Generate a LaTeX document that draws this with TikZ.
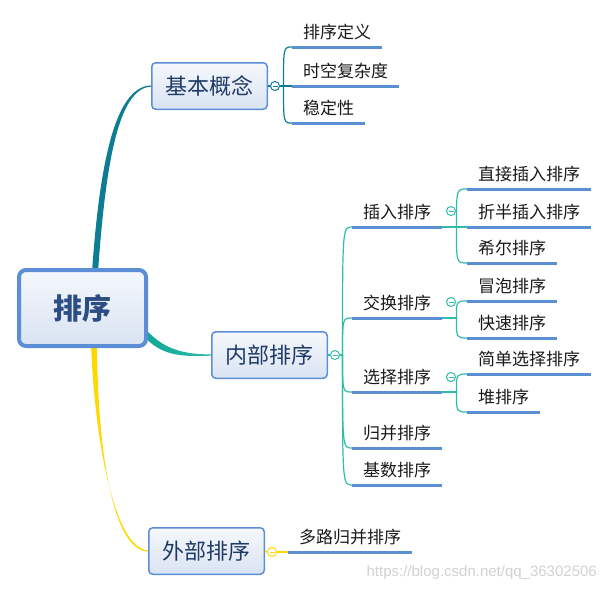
\documentclass[tikz,border=0pt]{standalone}
\usepackage{fontspec}
\setmainfont{Noto Sans CJK SC}
\newfontfamily\wmfont{Liberation Sans}
\usetikzlibrary{calc,backgrounds}
\definecolor{ublue}{HTML}{5B8FD4}
\definecolor{bord}{HTML}{5B8ED6}
\definecolor{boxtop}{HTML}{F5F8FC}
\definecolor{boxbot}{HTML}{D9E3F2}
\definecolor{tealA}{HTML}{0C7D93}
\definecolor{tealB}{HTML}{2EBEA8}
\definecolor{tealC}{HTML}{10A596}
\definecolor{yel}{HTML}{FFD800}
\definecolor{navy}{HTML}{1F3A66}
\definecolor{rootc}{HTML}{2D4E84}
\begin{document}
\begin{tikzpicture}[x=1pt,y=-1pt,
  box/.style={draw=bord, line width=1.5pt, rounded corners=4pt, top color=boxtop, bottom color=boxbot,
    minimum width=115.5pt, minimum height=46.5pt, inner sep=0pt,
    font=\fontsize{22pt}{24pt}\selectfont, text=navy},
  rootbox/.style={box, line width=4pt, rounded corners=7pt, minimum width=127pt, minimum height=76pt,
    font=\fontsize{29pt}{32pt}\selectfont\bfseries, text=rootc},
  leaf/.style={anchor=south west, inner xsep=11pt, inner ysep=5.5pt, text height=13pt, text depth=3pt,
    font=\fontsize{17pt}{20pt}\selectfont, text=black!90},
  uline/.style={draw=ublue, line width=3pt},
  tog/.style={circle, draw=#1, fill=white, line width=1pt, minimum size=9pt, inner sep=0pt,
    path picture={\draw[#1, line width=0.8pt] ([xshift=-2.5pt]path picture bounding box.center) -- ([xshift=2.5pt]path picture bounding box.center);}},
  brA/.style={draw=tealA, line width=1.2pt},
  brB/.style={draw=tealB, line width=1.2pt},
  brY/.style={draw=yel, line width=1.2pt},
]
\useasboundingbox (0,0) rectangle (609,592);

% main boxes
\node[rootbox] (root) at (82.5,308) {排序};
\node[box] (kb) at (209.5,86) {基本概念};
\node[box] (kn) at (269.5,355) {内部排序};
\node[box] (kw) at (206.5,551) {外部排序};

% leaves
\node[leaf] (a1) at (292,47) {排序定义};
\node[leaf] (a2) at (292,86) {时空复杂度};
\node[leaf] (a3) at (292,123) {稳定性};
\node[leaf] (b1) at (352,227) {插入排序};
\node[leaf] (b2) at (352,318) {交换排序};
\node[leaf] (b3) at (352,392) {选择排序};
\node[leaf] (b4) at (352,448) {归并排序};
\node[leaf] (b5) at (352,485) {基数排序};
\node[leaf] (c1) at (467,189) {直接插入排序};
\node[leaf] (c2) at (467,227) {折半插入排序};
\node[leaf] (c3) at (467,263) {希尔排序};
\node[leaf] (d1) at (467,301) {冒泡排序};
\node[leaf] (d2) at (467,338) {快速排序};
\node[leaf] (e1) at (467,374) {简单选择排序};
\node[leaf] (e2) at (467,412) {堆排序};
\node[leaf] (f1) at (288,552) {多路归并排序};

% root connectors (behind boxes)
\begin{scope}[on background layer]
\fill[tealA] ($(root.north)+(9.5,4)$) .. controls ($(root.north)+(18,-118)$) and ($(kb.west)+(-33,-0.6)$) .. ($(kb.west)+(1,-0.6)$)
  -- ($(kb.west)+(1,0.6)$) .. controls ($(kb.west)+(-30,1)$) and ($(root.north)+(24,-118)$) .. ($(root.north)+(15.5,4)$) -- cycle;
\shade[left color=tealC, right color=tealB] ($(root.east)+(-6,17)$) .. controls ($(root.east)+(14,42)$) and ($(kn.west)+(-27,-0.6)$) .. ($(kn.west)+(1,-0.6)$)
  -- ($(kn.west)+(1,0.6)$) .. controls ($(kn.west)+(-30,2)$) and ($(root.east)+(12,48)$) .. ($(root.east)+(-6,26)$) -- cycle;
\fill[yel] ($(root.south)+(8.5,-4)$) .. controls ($(root.south)+(12,90)$) and ($(kw.west)+(-34,-0.6)$) .. ($(kw.west)+(1,-0.6)$)
  -- ($(kw.west)+(1,0.6)$) .. controls ($(kw.west)+(-38,1)$) and ($(root.south)+(15,90)$) .. ($(root.south)+(14.5,-4)$) -- cycle;
\end{scope}

% toggles
\node[tog=tealA] (t0) at (275,86) {};
\node[tog=tealB] (t1) at (335,355) {};
\node[tog=yel] (t3) at (272,552) {};
\node[tog=tealB] (t11) at (451,211) {};
\node[tog=tealB] (t12) at (451,302) {};
\node[tog=tealB] (t13) at (451,377) {};

% 基本概念 branches
\draw[brA] (kb.east) -- (t0.west);
\draw[brA] (t0.east) -- (a2.south west);
\coordinate (o0) at ($(t0.east)+(3.5,0)$);
\draw[brA] (o0) .. controls (o0 |- a1.south west) .. (a1.south west);
\draw[brA] (o0) .. controls (o0 |- a3.south west) .. (a3.south west);

% 内部排序 branches
\draw[brB] (kn.east) -- (t1.west);
\coordinate (o1) at ($(t1.east)+(2.5,0)$);
\draw[brB] (t1.east) -- (o1);
\foreach \n in {b1,b2,b3,b4,b5}
  \draw[brB] (o1) .. controls (o1 |- \n.south west) .. (\n.south west);

\coordinate (p1) at ($(b1.south east)+(14,0)$);
\draw[brB] (b1.south east) -- (c2.south west);
\draw[brB] (p1) .. controls (p1 |- c1.south west) .. (c1.south west);
\draw[brB] (p1) .. controls (p1 |- c3.south west) .. (c3.south west);

\coordinate (p2) at ($(b2.south east)+(14,0)$);
\draw[brB] (b2.south east) -- (p2);
\draw[brB] (p2) .. controls (p2 |- d1.south west) .. (d1.south west);
\draw[brB] (p2) .. controls (p2 |- d2.south west) .. (d2.south west);

\coordinate (p3) at ($(b3.south east)+(14,0)$);
\draw[brB] (b3.south east) -- (p3);
\draw[brB] (p3) .. controls (p3 |- e1.south west) .. (e1.south west);
\draw[brB] (p3) .. controls (p3 |- e2.south west) .. (e2.south west);

% 外部排序 branch
\draw[brY] (kw.east) -- (t3.west);
\draw[brY] (t3.east) -- (f1.south west);

% underlines
\foreach \n in {a1,a2,a3,b1,b2,b3,b4,b5,c1,c2,c3,d1,d2,e1,e2,f1}
  \draw[uline] (\n.south west) -- (\n.south east);

% watermark
\node[anchor=east, inner sep=0pt, text=black!18, font=\wmfont\fontsize{15pt}{18pt}\selectfont] (wm) at (597,573) {https://blog.csdn.net/qq\_36302506};
\end{tikzpicture}
\end{document}
